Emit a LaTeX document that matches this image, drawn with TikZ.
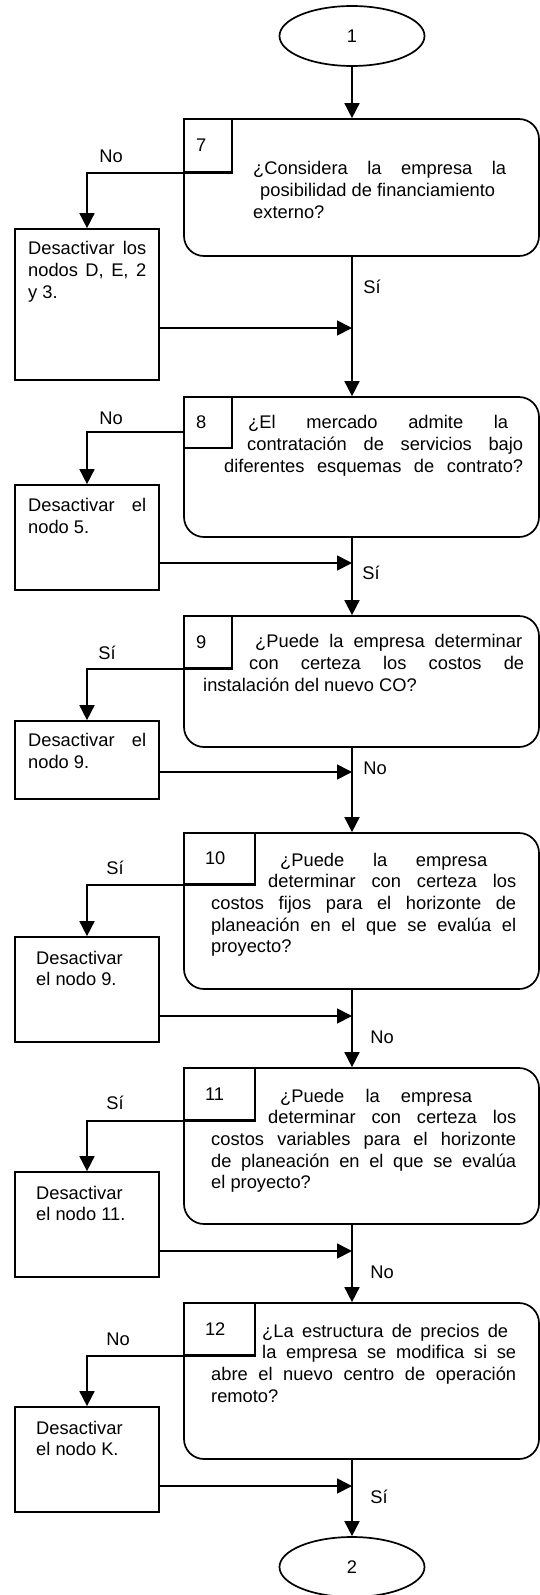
\documentclass[tikz,border=0pt]{standalone}
\usepackage{fontspec}
\setmainfont{Liberation Sans}
\usepackage{tikz}
\usetikzlibrary{positioning}
\usetikzlibrary{arrows.meta}
\usetikzlibrary{shapes.geometric}
\setlength{\parindent}{0pt}

\begin{document}
\begin{tikzpicture}[x=1pt, y=-1pt,
    every node/.style={font=\fontsize{18.3}{21.7}\selectfont},
    flow/.style={line width=1.7pt, -{Triangle[width=15pt,length=15pt]}},
    terminal/.style={draw, ellipse, line width=1.7pt, minimum width=145pt, minimum height=60pt, inner sep=0pt},
    question/.style={draw, rectangle, rounded corners=20pt, line width=1.7pt, minimum width=355pt, inner sep=0pt},
    numbox/.style={draw, fill=white, line width=1.7pt, anchor=north west, inner ysep=0pt, align=left},
    action/.style={draw, rectangle, line width=1.7pt, minimum width=144pt, inner sep=0pt},
    qtext/.style={anchor=north west, inner sep=0pt, align=justify},
    atext/.style={anchor=north west, inner sep=0pt, text width=118pt, align=justify},
    answer/.style={inner sep=0pt}]
            \useasboundingbox (0,0) rectangle (540,1595);

            % Start and question 7
            \node[terminal] (s1) at (352,36) {1};
            \node[question, minimum height=137pt] (q7) at (361.5,187.5) {};
            \node[numbox, inner xsep=12pt, text width=24pt, minimum height=53pt] (n7) at (q7.north west) {7};
            \node[qtext, text width=253pt] (t7) at (253,159.6) {\strut ¿Considera la empresa la\linebreak
                \hspace*{7pt}posibilidad de financiamiento\newline externo?};
            \node[action, minimum height=151pt] (a7) at (87,304.5) {};
            \node[atext] (x7) at (28,239.6) {\strut Desactivar los\linebreak nodos D, E, 2\linebreak y 3.};
            \node[answer] (no7) at (111,156) {No};
            \node[answer] (si7) at (372,287) {Sí};
            \coordinate (j7) at (352,328);

            % Question 8
            \node[question, minimum height=140pt] (q8) at (361.5,467) {};
            \node[numbox, inner xsep=12pt, text width=24pt, minimum height=51pt] (n8) at (q8.north west) {8};
            \node[qtext, text width=299pt] (t8) at (224,413.6) {\strut \hspace*{24pt}¿El mercado admite la\hspace*{15pt}\linebreak
                \hspace*{23pt}contratación de servicios bajo\linebreak diferentes\hfill esquemas\hfill de\hfill contrato?};
            \node[action, minimum height=105pt] (a8) at (87,537.5) {};
            \node[atext] (x8) at (28,496.6) {\strut Desactivar el\linebreak nodo 5.};
            \node[answer] (no8) at (111,418) {No};
            \node[answer] (si8) at (371,573) {Sí};
            \coordinate (j8) at (352,563);

            % Question 9
            \node[question, minimum height=131pt] (q9) at (361.5,681.5) {};
            \node[numbox, inner xsep=12pt, text width=24pt, minimum height=52pt] (n9) at (q9.north west) {9};
            \node[qtext, text width=321pt] (t9) at (203,632.6) {\strut \hspace*{52pt}¿Puede la empresa determinar\hspace*{2pt}\linebreak
                \hspace*{46pt}con certeza los costos de\linebreak instalación del nuevo CO?};
            \node[action, minimum height=78pt] (a9) at (87,760) {};
            \node[atext] (x9) at (28,731.6) {\strut Desactivar el\linebreak nodo 9.};
            \node[answer] (si9) at (107,653) {Sí};
            \node[answer] (no9) at (375,768) {No};
            \coordinate (j9) at (352,772);

            % Question 10
            \node[question, minimum height=156pt] (q10) at (361.5,911) {};
            \node[numbox, inner xsep=21pt, text width=29pt, minimum height=51pt] (n10) at (q10.north west) {10};
            \node[qtext, text width=305pt] (t10) at (211,850.6) {\strut \hspace*{69pt}¿Puede la empresa\hspace*{29pt}\linebreak
                \hspace*{57pt}determinar con certeza los\linebreak costos fijos para el horizonte de\linebreak
                planeación en el que se evalúa el\linebreak proyecto?};
            \node[action, minimum height=105pt] (a10) at (87,989.5) {};
            \node[atext] (x10) at (36,948.6) {\strut Desactivar\newline el nodo 9.};
            \node[answer] (si10) at (115,868) {Sí};
            \node[answer] (no10) at (382,1037) {No};
            \coordinate (j10) at (352,1016);

            % Question 11
            \node[question, minimum height=156pt] (q11) at (361.5,1146) {};
            \node[numbox, inner xsep=21pt, text width=29pt, minimum height=52pt] (n11) at (q11.north west) {11};
            \node[qtext, text width=305pt] (t11) at (211,1086.6) {\strut \hspace*{69pt}¿Puede la empresa\hspace*{44pt}\linebreak
                \hspace*{57pt}determinar con certeza los\linebreak costos variables para el horizonte\linebreak
                de planeación en el que se evalúa\linebreak el proyecto?};
            \node[action, minimum height=105pt] (a11) at (87,1224.5) {};
            \node[atext] (x11) at (36,1183.6) {\strut Desactivar\newline el nodo 11.};
            \node[answer] (si11) at (115,1103) {Sí};
            \node[answer] (no11) at (382,1272) {No};
            \coordinate (j11) at (352,1251);

            % Question 12 and end
            \node[question, minimum height=156pt] (q12) at (361.5,1381) {};
            \node[numbox, inner xsep=21pt, text width=29pt, minimum height=52pt] (n12) at (q12.north west) {12};
            \node[qtext, text width=305pt] (t12) at (211,1321.6) {\strut \hspace*{51pt}¿La estructura de precios de\hspace*{8pt}\linebreak
                \hspace*{51pt}la empresa se modifica si se\linebreak abre el nuevo centro de operación\linebreak remoto?};
            \node[action, minimum height=105pt] (a12) at (87,1459.5) {};
            \node[atext] (x12) at (36,1418.6) {\strut Desactivar\newline el nodo K.};
            \node[answer] (no12) at (118,1339) {No};
            \node[answer] (si12) at (379,1497) {Sí};
            \coordinate (j12) at (352,1486);
            \node[terminal] (s2) at (352,1567) {2};

            % Connectors
            \draw[flow] (s1) -- (s1 |- q7.north);
            \draw[flow] (n7.south east) -| (a7.north);
            \draw[flow] (a7.east |- j7) -- (j7);
            \draw[flow] (s1 |- q7.south) -- (s1 |- q8.north);
            \draw[flow] ([yshift=-36pt]q8.north west) -| (a8.north);
            \draw[flow] (a8.east |- j8) -- (j8);
            \draw[flow] (s1 |- q8.south) -- (s1 |- q9.north);
            \draw[flow] (n9.south east) -| (a9.north);
            \draw[flow] (a9.east |- j9) -- (j9);
            \draw[flow] (s1 |- q9.south) -- (s1 |- q10.north);
            \draw[flow] (n10.south east) -| (a10.north);
            \draw[flow] (a10.east |- j10) -- (j10);
            \draw[flow] (s1 |- q10.south) -- (s1 |- q11.north);
            \draw[flow] (n11.south east) -| (a11.north);
            \draw[flow] (a11.east |- j11) -- (j11);
            \draw[flow] (s1 |- q11.south) -- (s1 |- q12.north);
            \draw[flow] (n12.south east) -| (a12.north);
            \draw[flow] (a12.east |- j12) -- (j12);
            \draw[flow] (s1 |- q12.south) -- (s2);
        \end{tikzpicture}
\end{document}
